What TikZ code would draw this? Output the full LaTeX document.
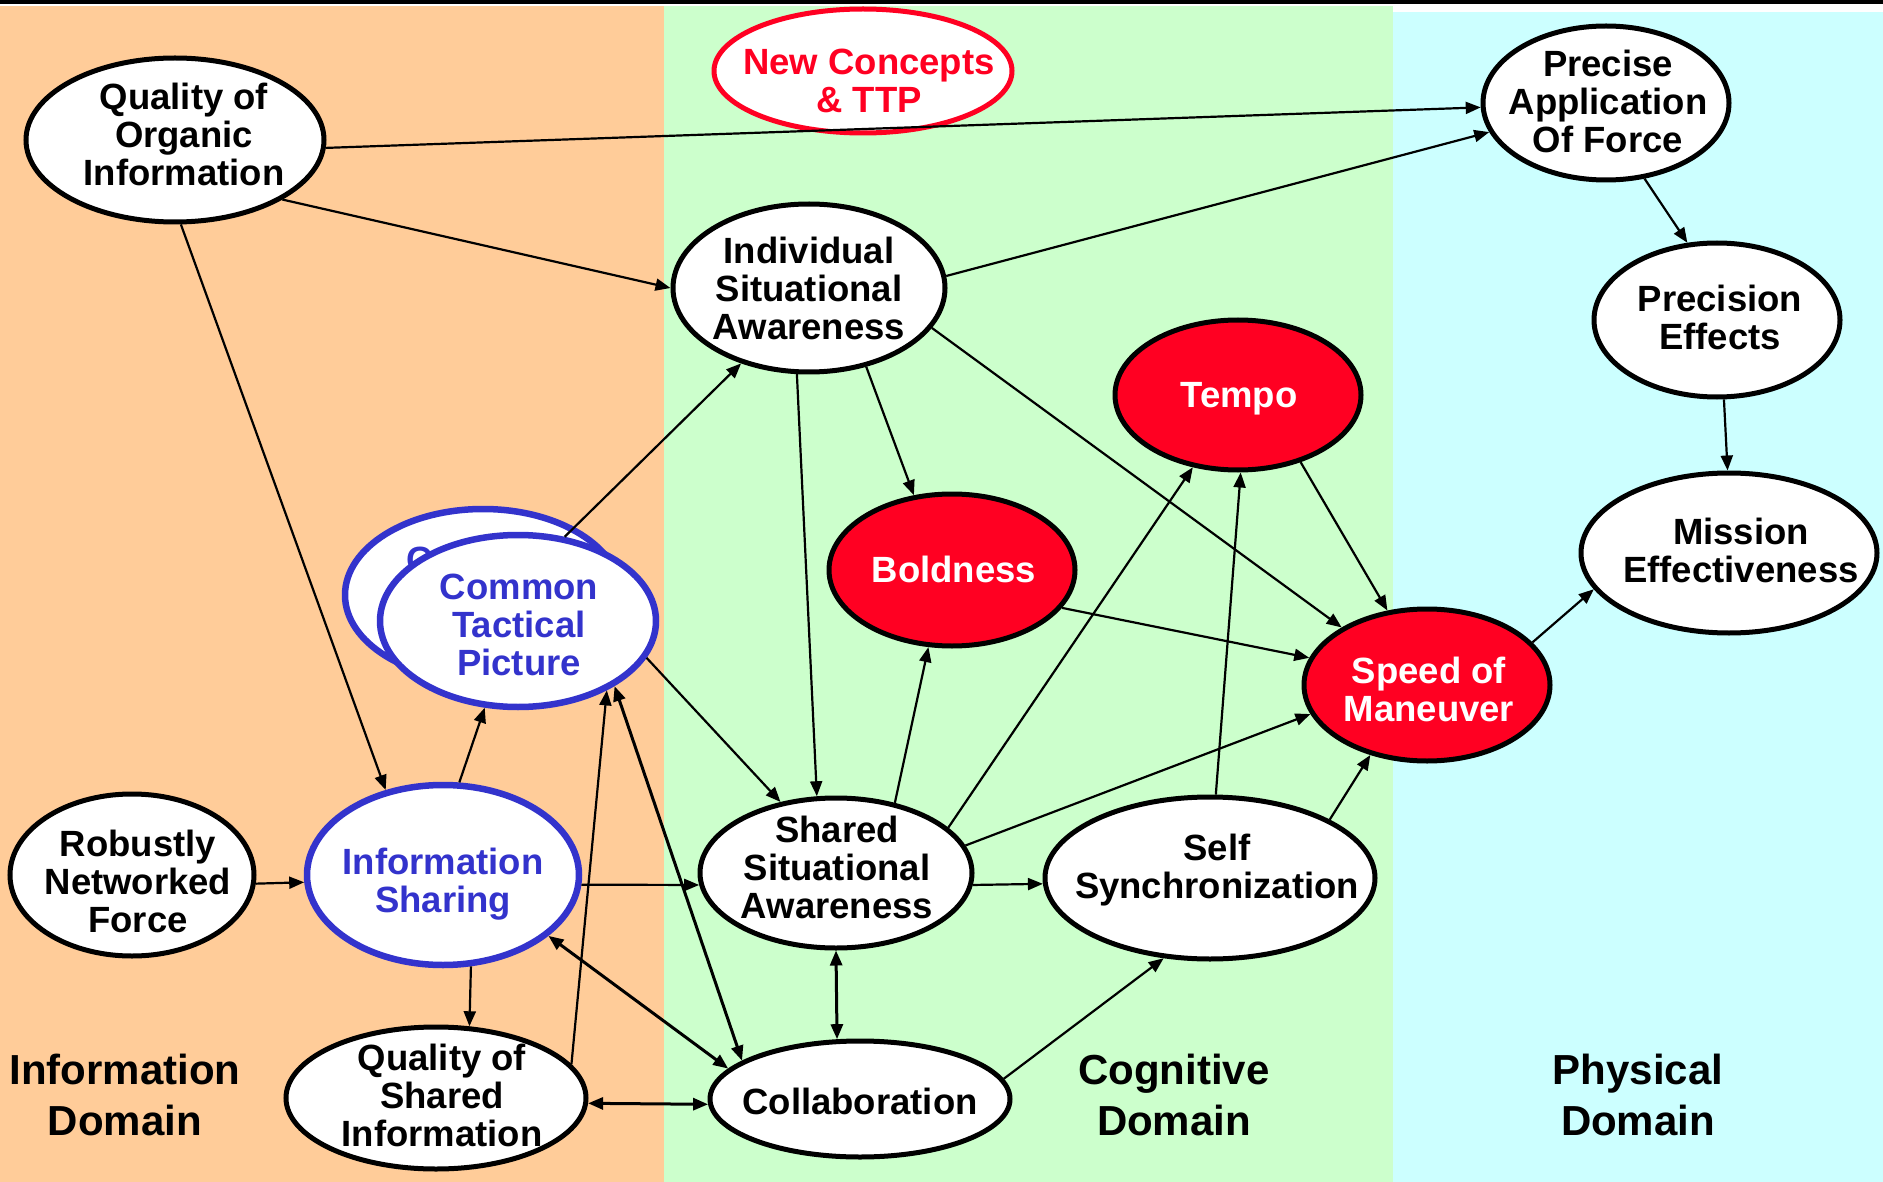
\documentclass[tikz,border=0pt]{standalone}
\usepackage{fontspec}
\setmainfont{Liberation Sans}
\usetikzlibrary{shapes.geometric,arrows.meta}
\definecolor{infobg}{HTML}{FFCC99}
\definecolor{cogbg}{HTML}{CCFFCC}
\definecolor{phybg}{HTML}{CCFFFF}
\definecolor{hotred}{HTML}{FF0022}
\definecolor{ctpblue}{HTML}{3333CC}
\begin{document}
\begin{tikzpicture}[x=1pt,y=-1pt,
  oval/.style={ellipse, draw=black, line width=5pt, fill=white, inner sep=0pt},
  blueoval/.style={oval, draw=ctpblue, line width=6.5pt},
  redoval/.style={oval, fill=hotred},
  conceptoval/.style={oval, draw=hotred},
  txt/.style={font=\bfseries\fontsize{36.5}{38}\selectfont, align=center, inner sep=0pt},
  domlabel/.style={font=\bfseries\fontsize{42}{51}\selectfont, align=center, inner sep=0pt},
  link/.style={line width=2.2pt, -{Triangle[length=15pt,width=12pt]}},
  dlink/.style={line width=3pt, {Triangle[length=15pt,width=12pt]}-{Triangle[length=15pt,width=12pt]}}
]
% background
\fill[white] (0,0) rectangle (1883,1182);
\fill[infobg] (0,6) rectangle (664,1182);
\fill[cogbg] (664,6) rectangle (1393,1182);
\fill[phybg] (1393,12) rectangle (1883,1182);
\fill[black] (0,0.5) rectangle (1883,4);
\useasboundingbox (0,0) rectangle (1883,1182);

% domain labels
\node[domlabel] (dinfo) at (125,1095) {Information\\Domain};
\node[domlabel] (dcog) at (1174,1095) {Cognitive\\Domain};
\node[domlabel] (dphy) at (1638,1095) {Physical\\Domain};

% common tactical picture (stacked)
\node[blueoval, minimum width=276pt, minimum height=172pt] (ctpback) at (483,595) {};
\node[txt, text=ctpblue] (ctpback-t) at (486,598) {Common\\Tactical\\Picture};
\node[blueoval, minimum width=276pt, minimum height=172pt] (ctp) at (518,621) {};
\node[txt, text=ctpblue] (ctp-t) at (519,625) {Common\\Tactical\\Picture};

% other nodes
\node[oval, minimum width=298pt, minimum height=164pt] (qoi) at (175,140) {};
\node[txt] (qoi-t) at (184,134) {Quality of\\Organic\\Information};

\node[conceptoval, minimum width=298pt, minimum height=124pt] (ncp) at (863,71) {};
\node[txt, text=hotred] (ncp-t) at (869,81) {New Concepts\\\& TTP};

\node[oval, minimum width=246pt, minimum height=154pt] (paf) at (1606,103) {};
\node[txt] (paf-t) at (1608,101) {Precise\\Application\\Of Force};

\node[oval, minimum width=272pt, minimum height=168pt] (isa) at (809,288) {};
\node[txt] (isa-t) at (809,288) {Individual\\Situational\\Awareness};

\node[oval, minimum width=246pt, minimum height=154pt] (pe) at (1717,320) {};
\node[txt] (pe-t) at (1720,317) {Precision\\Effects};

\node[redoval, minimum width=246pt, minimum height=150pt] (tempo) at (1238,395) {};
\node[txt, text=white] (tempo-t) at (1239,399) {Tempo};

\node[redoval, minimum width=246pt, minimum height=152pt] (bold) at (952,570) {};
\node[txt, text=white] (bold-t) at (954,569) {Boldness};

\node[oval, minimum width=296pt, minimum height=160pt] (me) at (1729,553) {};
\node[txt] (me-t) at (1741,550) {Mission\\Effectiveness};

\node[redoval, minimum width=246pt, minimum height=152pt] (som) at (1427,685) {};
\node[txt, text=white] (som-t) at (1429,689) {Speed of\\Maneuver};

\node[oval, minimum width=244pt, minimum height=162pt] (rnf) at (132,875) {};
\node[txt] (rnf-t) at (138,881) {Robustly\\Networked\\Force};

\node[blueoval, minimum width=272pt, minimum height=180pt] (is) at (443,875) {};
\node[txt, text=ctpblue] (is-t) at (443,884) {Information\\Sharing};

\node[oval, minimum width=272pt, minimum height=150pt] (ssa) at (836,873) {};
\node[txt] (ssa-t) at (837,867) {Shared\\Situational\\Awareness};

\node[oval, minimum width=330pt, minimum height=162pt] (ss) at (1210,878) {};
\node[txt] (ss-t) at (1217,870) {Self\\Synchronization};

\node[oval, minimum width=300pt, minimum height=142pt] (qsi) at (436,1098) {};
\node[txt] (qsi-t) at (442,1095) {Quality of\\Shared\\Information};

\node[oval, minimum width=300pt, minimum height=116pt] (col) at (860,1099) {};
\node[txt] (col-t) at (860,1101) {Collaboration};

% connectors
\draw[link] (qoi.-3.4) -- (paf.182.6);
\draw[link] (qoi.-29.5) -- (isa.180);
\draw[link] (qoi.-86.6) -- (is.124.9);
\draw[link] (isa.5.8) -- (paf.194.6);
\draw[link] (isa.-54.7) -- (bold.117.8);
\draw[link] (isa.-98.4) -- (ssa.104);
\draw[link] (isa.-18.9) -- (som.146.9);
\draw[link] (ctp.61.6) -- (isa.228);
\draw[link] (ctp.-16.2) -- (ssa.128.5);
\draw[link] (is.80) -- (ctp.249);
\draw[link] (is.-4.8) -- (ssa.185.6);
\draw[link] (is.-73.8) -- (qsi.65.3);
\draw[dlink] (is.-30.3) -- (col.167.6);
\draw[link] (rnf.-4.4) -- (is.183.9);
\draw[link] (qsi.14.6) -- (ctp.-38.6);
\draw[dlink] (qsi.-2.7) -- (col.182.3);
\draw[dlink] (col.162.5) -- (ctp.-34.5);
\draw[dlink] (ssa.-90) -- (col.111);
\draw[link] (col.8.7) -- (ss.240.4);
\draw[link] (ssa.50.5) -- (bold.253.3);
\draw[link] (ssa.22.6) -- (tempo.238.4);
\draw[link] (ssa.12.3) -- (som.194);
\draw[link] (ssa.-5.4) -- (ss.182.8);
\draw[link] (ss.86.6) -- (tempo.272.7);
\draw[link] (ss.26) -- (som.231.7);
\draw[link] (bold.-19.7) -- (som.167.1);
\draw[link] (tempo.-47.1) -- (som.118);
\draw[link] (som.22.3) -- (me.195.8);
\draw[link] (paf.-63.1) -- (pe.111.8);
\draw[link] (pe.-85) -- (me.91.4);
\end{tikzpicture}
\end{document}
